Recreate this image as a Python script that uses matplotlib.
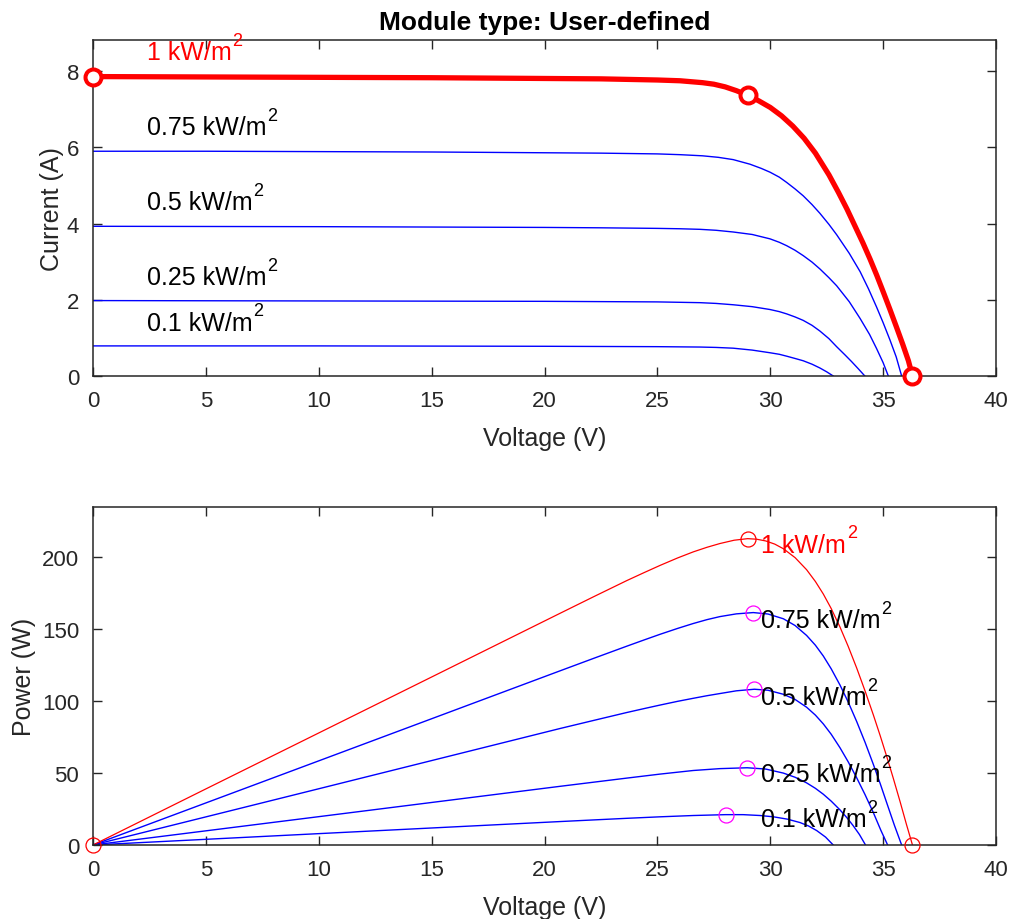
import matplotlib
matplotlib.use('Agg')
import matplotlib.pyplot as plt

plt.rcParams['font.family'] = ['Liberation Sans', 'DejaVu Sans']

# irradiance levels (kW/m^2)
levels = ['1', '0.75', '0.5', '0.25', '0.1']

# I-V curves
iv_v_100 = [0, 5, 10, 15, 20, 22.5, 25, 26.0, 27.0, 27.5, 28.0, 28.5, 29.0, 29.5, 30.0, 30.5, 31.0, 31.5,
            32.0, 32.6, 33.02, 33.4, 33.75, 34.1, 34.42, 34.72, 35.01, 35.3, 35.6, 35.87, 36.12, 36.3]
iv_i_100 = [7.86, 7.85, 7.84, 7.83, 7.81, 7.80, 7.77, 7.75, 7.70, 7.66, 7.59, 7.49, 7.37, 7.22, 7.05, 6.83, 6.56, 6.24,
            5.85, 5.28, 4.82, 4.38, 3.94, 3.50, 3.07, 2.64, 2.20, 1.75, 1.27, 0.83, 0.40, 0.0]

iv_v_75 = [0, 5, 10, 15, 20, 22.5, 25, 26.0, 27.0, 27.7, 28.36, 29.1, 29.6, 29.99, 30.4, 30.73, 31.1, 31.46,
           31.85, 32.2, 32.6, 32.94, 33.5, 33.98, 34.35, 34.71, 35.0, 35.3, 35.58, 35.82]
iv_i_75 = [5.90, 5.90, 5.89, 5.88, 5.86, 5.85, 5.83, 5.81, 5.78, 5.74, 5.68, 5.56, 5.45, 5.35, 5.22, 5.08, 4.91, 4.73,
           4.50, 4.27, 3.98, 3.71, 3.22, 2.74, 2.29, 1.81, 1.40, 0.95, 0.50, 0.0]

iv_v_50 = [0, 10, 20, 22.5, 25, 26.0, 26.89, 27.6, 28.36, 29.2, 29.99, 30.4, 30.73, 31.1, 31.46, 31.85, 32.2,
           32.6, 32.94, 33.5, 33.98, 34.4, 34.71, 35.0, 35.23]
iv_i_50 = [3.93, 3.92, 3.90, 3.89, 3.875, 3.865, 3.85, 3.825, 3.78, 3.715, 3.60, 3.51, 3.42, 3.30, 3.16, 2.99, 2.81,
           2.58, 2.37, 1.95, 1.51, 1.09, 0.72, 0.35, 0.0]

iv_v_25 = [0, 10, 20, 25, 26.89, 27.6, 28.36, 29.2, 29.99, 30.4, 30.73, 31.1, 31.46, 31.85, 32.2, 32.6, 32.94,
           33.3, 33.6, 33.9, 34.19]
iv_i_25 = [1.98, 1.97, 1.96, 1.945, 1.925, 1.905, 1.87, 1.82, 1.745, 1.69, 1.63, 1.55, 1.46, 1.33, 1.18, 0.98, 0.77,
           0.56, 0.38, 0.19, 0.0]

iv_v_10 = [0, 10, 20, 25, 26.89, 27.6, 28.36, 29.2, 29.99, 30.4, 30.73, 31.1, 31.46, 31.85, 32.2, 32.5, 32.79]
iv_i_10 = [0.79, 0.79, 0.78, 0.77, 0.76, 0.75, 0.73, 0.68, 0.61, 0.57, 0.52, 0.46, 0.40, 0.31, 0.21, 0.11, 0.0]

# P-V curves
pv_v_100 = [0, 5, 10, 15, 20.69, 22.2, 23.64, 24.4, 25.12, 25.9, 26.59, 27.2, 27.77, 28.4, 29.0, 29.4, 29.8,
            30.2, 30.58, 31.1, 31.61, 32.0, 32.35, 32.7, 33.09, 33.45, 33.83, 34.2, 34.57, 34.87, 35.16, 35.45,
            35.75, 36.03, 36.3]
pv_p_100 = [0, 39.0, 77.9, 116.8, 161.1, 172.8, 183.8, 189.3, 194.4, 199.6, 203.8, 207.0, 209.6, 211.9, 213.0,
            212.6, 211.4, 209.2, 206.0, 199.8, 191.4, 183.2, 174.5, 164.4, 151.5, 138.2, 123.0, 107.1, 90.3, 76.0,
            61.5, 46.4, 30.2, 14.5, 0]

pv_v_75 = [0, 10, 20.69, 22.2, 23.64, 24.4, 25.12, 25.9, 26.59, 27.2, 27.77, 28.5, 29.25, 29.9, 30.58, 31.1,
           31.61, 32.0, 32.35, 32.7, 33.09, 33.45, 33.83, 34.2, 34.57, 34.87, 35.16, 35.5, 35.82]
pv_p_75 = [0, 58.5, 121.1, 129.9, 138.2, 142.5, 146.5, 150.6, 154.0, 156.7, 158.8, 160.7, 161.6, 160.6, 157.3,
           152.6, 145.7, 138.9, 131.4, 122.5, 111.2, 99.5, 85.8, 71.4, 55.9, 42.7, 29.3, 13.7, 0]

pv_v_50 = [0, 10, 20.69, 22.2, 23.64, 24.4, 25.12, 25.9, 26.59, 27.2, 27.77, 28.5, 29.30, 29.9, 30.58, 31.1,
           31.61, 32.0, 32.35, 32.7, 33.09, 33.45, 33.83, 34.2, 34.57, 34.9, 35.2]
pv_p_50 = [0, 39.1, 81.0, 86.7, 92.1, 94.8, 97.3, 99.9, 102.0, 103.8, 105.3, 107.2, 108.3, 107.6, 104.8, 101.2,
           95.8, 90.3, 84.2, 77.0, 67.6, 57.9, 46.7, 35.0, 22.4, 10.2, 0]

pv_v_25 = [0, 10, 20.69, 23.64, 25.12, 26.59, 27.77, 28.98, 29.8, 30.58, 31.1, 31.61, 32.0, 32.35, 32.7, 33.09,
           33.4, 33.68, 33.95, 34.22]
pv_p_25 = [0, 19.7, 40.8, 46.5, 49.3, 51.8, 53.1, 53.7, 52.8, 50.0, 47.1, 43.2, 39.4, 35.3, 30.5, 24.4,
           18.9, 13.3, 7.3, 0]

pv_v_10 = [0, 10, 20.69, 23.64, 25.12, 26.59, 28.02, 28.8, 29.55, 30.14, 30.75, 31.32, 31.7, 32.06, 32.45, 32.79]
pv_p_10 = [0, 7.9, 16.3, 18.55, 19.6, 20.5, 21.1, 21.1, 20.5, 19.6, 18.0, 15.6, 13.2, 10.0, 5.5, 0]

# marked points
iv_mark_v = [0, 29.0, 36.3]
iv_mark_i = [7.86, 7.37, 0.0]
pv_mark_v = [0, 29.0, 36.3]
pv_mark_p = [0, 213.0, 0]
mpp_v = [29.25, 29.30, 28.98, 28.02]
mpp_p = [161.6, 108.3, 53.7, 21.1]

# label anchors
iv_label_v = 2.4
iv_label_i = [8.32, 6.35, 4.38, 2.41, 1.22]
pv_label_v = 29.6
pv_label_p = [204.0, 151.4, 97.9, 44.4, 13.2]

GRAY = (0.15, 0.15, 0.15)


def irradiance_label(ax, x, y, value, color):
    t = ax.text(x, y, value + ' kW/m', fontsize=18, va='baseline', color=color, zorder=6)
    ax.annotate('2', xy=(1, 1), xycoords=t, xytext=(0.5, 6), textcoords='offset points',
                ha='left', va='top', fontsize=13, color=color, zorder=6)


fig = plt.figure(figsize=(10.14, 9.2), dpi=100)
ax1 = fig.add_axes([93 / 1014, 1 - 377 / 920, (996 - 93) / 1014, (377 - 41) / 920])
ax2 = fig.add_axes([93 / 1014, 1 - 846 / 920, (996 - 93) / 1014, (846 - 508) / 920])

for ax in (ax1, ax2):
    for spine in ax.spines.values():
        spine.set_color(GRAY)
        spine.set_linewidth(1.1)
    ax.tick_params(direction='in', top=True, right=True, length=6.5, width=1.0,
                   colors=GRAY, labelsize=16, pad=10)
    ax.set_xlim(0, 40)
    ax.set_xticks(range(0, 41, 5))
    ax.set_xlabel('Voltage (V)', fontsize=18, color=GRAY, labelpad=11)

# top: I-V
for vs, cs in [(iv_v_75, iv_i_75), (iv_v_50, iv_i_50), (iv_v_25, iv_i_25), (iv_v_10, iv_i_10)]:
    ax1.plot(vs, cs, color='blue', linewidth=1.0)
ax1.plot(iv_v_100, iv_i_100, color='red', linewidth=3.8, solid_joinstyle='round')
ax1.plot(iv_mark_v, iv_mark_i, 'o', color='red', markersize=11.5, markeredgewidth=2.9,
         markerfacecolor='white', clip_on=False, zorder=5)

for k, value in enumerate(levels):
    irradiance_label(ax1, iv_label_v, iv_label_i[k], value, 'red' if k == 0 else 'black')

ax1.set_ylim(0, 8.82)
ax1.set_yticks([0, 2, 4, 6, 8])
ax1.set_ylabel('Current (A)', fontsize=18, color=GRAY, labelpad=2)
ax1.set_title('Module type: User-defined', fontsize=19, fontweight='bold', pad=8)

# bottom: P-V
for vs, ps in [(pv_v_75, pv_p_75), (pv_v_50, pv_p_50), (pv_v_25, pv_p_25), (pv_v_10, pv_p_10)]:
    ax2.plot(vs, ps, color='blue', linewidth=1.0)
ax2.plot(pv_v_100, pv_p_100, color='red', linewidth=0.9)
ax2.plot(pv_mark_v, pv_mark_p, 'o', color='red', markersize=10.8, markeredgewidth=0.9,
         markerfacecolor='none', clip_on=False, zorder=5)
ax2.plot(mpp_v, mpp_p, 'o', color='magenta', markersize=10.8, markeredgewidth=0.9,
         markerfacecolor='none', zorder=5)

for k, value in enumerate(levels):
    irradiance_label(ax2, pv_label_v, pv_label_p[k], value, 'red' if k == 0 else 'black')

ax2.set_ylim(0, 235)
ax2.set_yticks([0, 50, 100, 150, 200])
ax2.set_ylabel('Power (W)', fontsize=18, color=GRAY, labelpad=4)

fig.savefig('out.png', dpi=100)
